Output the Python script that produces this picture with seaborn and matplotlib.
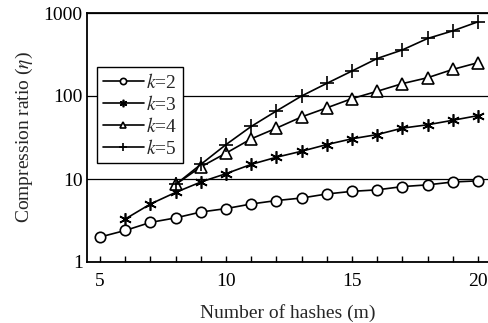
# ============================================================
# LIBRARY
# ============================================================
import pandas as pd
import numpy as np
import matplotlib
matplotlib.use("Agg")
import matplotlib.pyplot as plt
from matplotlib.ticker import FixedLocator, NullLocator
import seaborn as sns

# ============================================================
# DATA
# ============================================================
m_k2 = [5, 6, 7, 8, 9, 10, 11, 12, 13, 14, 15, 16, 17, 18, 19, 20]
eta_k2 = [2.0, 2.4, 3.0, 3.4, 4.0, 4.4, 5.0, 5.5, 5.9, 6.6, 7.1, 7.4, 8.1, 8.5, 9.2, 9.5]

m_k3 = [6, 7, 8, 9, 10, 11, 12, 13, 14, 15, 16, 17, 18, 19, 20]
eta_k3 = [3.3, 5.0, 6.9, 9.2, 11.6, 15.0, 18.3, 21.6, 26, 30.5, 34.3, 41, 45, 51, 58]

m_k4 = [8, 9, 10, 11, 12, 13, 14, 15, 16, 17, 18, 19, 20]
eta_k4 = [8.6, 14.0, 20.5, 30.5, 41, 56, 72, 93, 114, 141, 166, 209, 252]

m_k5 = [8, 9, 10, 11, 12, 13, 14, 15, 16, 17, 18, 19, 20]
eta_k5 = [8.6, 15, 26, 43, 66, 100, 142, 200, 283, 359, 493, 609, 783]

series_labels = ["$k$=2", "$k$=3", "$k$=4", "$k$=5"]
x_ticks = [5, 10, 15, 20]
y_ticks = [1, 10, 100, 1000]

# ============================================================
# STYLE
# ============================================================
sns.set_style("white")
plt.rcParams["font.family"] = ["Liberation Serif", "DejaVu Serif"]
plt.rcParams["mathtext.fontset"] = "stix"

df = pd.concat([
    pd.DataFrame({"m": m_k2, "eta": eta_k2, "k": series_labels[0]}),
    pd.DataFrame({"m": m_k3, "eta": eta_k3, "k": series_labels[1]}),
    pd.DataFrame({"m": m_k4, "eta": eta_k4, "k": series_labels[2]}),
    pd.DataFrame({"m": m_k5, "eta": eta_k5, "k": series_labels[3]}),
])

markers = ["o", (6, 2, 0), "^", "+"]
msizes = [7.5, 9, 8, 10]

# ============================================================
# PLOT
# ============================================================
fig = plt.figure(figsize=(4.89, 3.23), dpi=100)
ax = fig.add_axes([87 / 489, 61 / 323, 402 / 489, 249 / 323])

for lab, mk, ms in zip(series_labels, markers, msizes):
    sub = df[df["k"] == lab]
    sns.lineplot(data=sub, x="m", y="eta", ax=ax, color="black", linewidth=1.2,
                 marker=mk, markersize=ms, markerfacecolor="white",
                 markeredgecolor="black", markeredgewidth=1.2, label=lab)

ax.set_yscale("log")
ax.set_xlim(4.48, 20.44)
ax.set_ylim(1, 1000)

ax.xaxis.set_major_locator(FixedLocator(x_ticks))
ax.xaxis.set_minor_locator(FixedLocator(list(range(5, 21))))
ax.yaxis.set_major_locator(FixedLocator(y_ticks))
ax.yaxis.set_minor_locator(NullLocator())
ax.set_yticklabels([str(v) for v in y_ticks])
ax.tick_params(axis="x", which="both", direction="in", length=4, width=1,
               bottom=True, labelsize=14, pad=8, colors="black")
ax.tick_params(axis="y", which="both", direction="in", length=0,
               left=True, labelsize=14, pad=3, colors="black")

ax.yaxis.grid(True, color="black", linewidth=0.9)
ax.xaxis.grid(False)

for side in ["left", "bottom", "top"]:
    ax.spines[side].set_color("black")
    ax.spines[side].set_linewidth(1.3)
ax.spines["right"].set_visible(False)

ax.set_xlabel("Number of hashes (m)", fontsize=14, labelpad=10)
ax.set_ylabel("Compression ratio ($\\eta$)", fontsize=14, labelpad=6)

leg = ax.legend(loc="upper left", bbox_to_anchor=(0.025, 0.783), fontsize=14,
                frameon=True, fancybox=False, edgecolor="black", framealpha=1,
                markerscale=0.6, handlelength=2.1, handletextpad=0.1,
                labelspacing=0.15, borderpad=0.3, borderaxespad=0)
leg.get_frame().set_linewidth(1.0)

# ============================================================
# SIMPAN
# ============================================================
fig.savefig("out.png", dpi=100)
